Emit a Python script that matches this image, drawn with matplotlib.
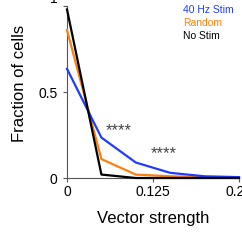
import matplotlib
matplotlib.use("Agg")
import matplotlib.pyplot as plt

plt.rcParams['font.family'] = ['Liberation Sans', 'DejaVu Sans']

# bin centres of vector strength histogram
vs_bins = [0, 0.05, 0.1, 0.15, 0.2, 0.25]
frac_40hz = [0.635, 0.235, 0.09, 0.03, 0.01, 0.005]
frac_random = [0.86, 0.11, 0.02, 0.01, 0.005, 0.0]
frac_nostim = [0.98, 0.02, 0.0, 0.0, 0.0, 0.0]

labels = ["40 Hz Stim", "Random", "No Stim"]
colors = ["#1f3cff", "#ff7f0e", "#000000"]
stars = [(0.0756, 0.275), (0.141, 0.141)]

fig = plt.figure(figsize=(2.42, 2.41), dpi=100)
ax = fig.add_axes([67 / 242, 1 - 178 / 241, 172 / 242, 172 / 241])

series = [frac_40hz, frac_random, frac_nostim]
for i in [1, 0, 2]:
    ax.plot(vs_bins, series[i], color=colors[i], lw=1.6, clip_on=False, zorder=3)

for x, y in stars:
    ax.text(x, y, "****", fontsize=12, ha="center", va="center", color="#444444")

for k, (lab, c) in enumerate(zip(labels, colors)):
    fig.text(183 / 242, 1 - (10 + 13 * k) / 241, lab, color=c, fontsize=7.5, va="center", ha="left")

ax.set_xlim(0, 0.25)
ax.set_ylim(0, 1)
ax.set_xticks([0, 0.125, 0.25])
ax.set_xticklabels(["0", "0.125", "0.25"])
ax.set_yticks([0, 0.5, 1])
ax.set_yticklabels(["0", "0.5", "1"])
for s in ["top", "right"]:
    ax.spines[s].set_visible(False)
for s in ["left", "bottom"]:
    ax.spines[s].set_color("#555555")
    ax.spines[s].set_linewidth(0.8)
ax.tick_params(labelsize=10, length=3, width=0.8, color="#555555")
ax.tick_params(axis="x", pad=2)
ax.tick_params(axis="y", pad=4)
ax.get_yticklabels()[-1].set_va("bottom")
ax.set_xlabel("Vector strength", fontsize=12, labelpad=9)
ax.set_ylabel("Fraction of cells", fontsize=12)
ax.yaxis.set_label_coords(-0.235, 0.55)

fig.savefig("out.png", dpi=100)
